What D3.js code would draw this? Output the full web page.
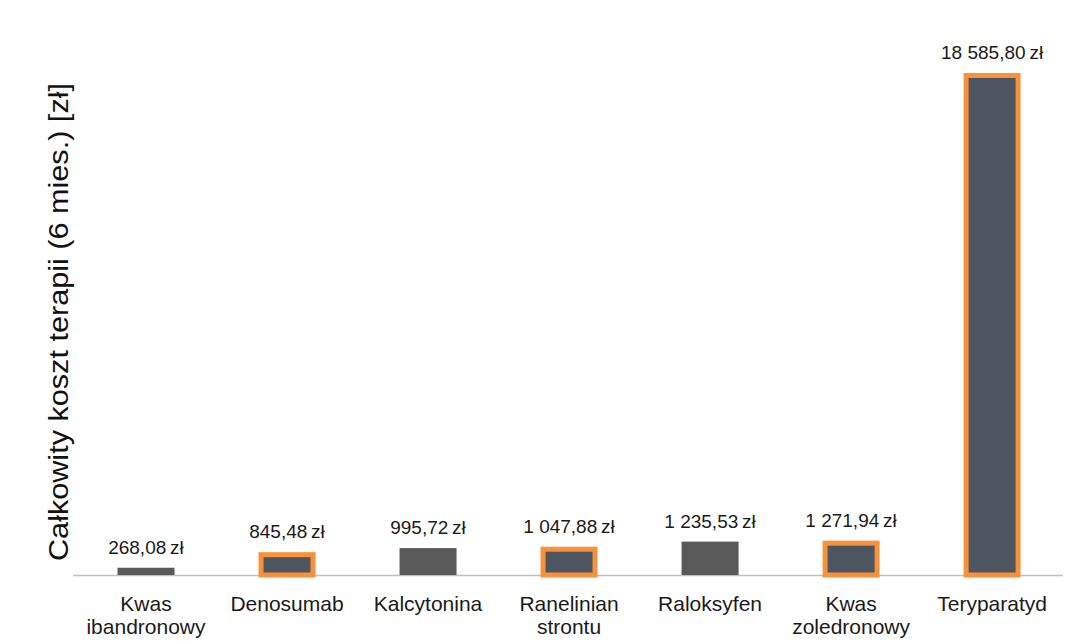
<!DOCTYPE html>
<html>
<head>
<meta charset="utf-8">
<script src="https://cdn.jsdelivr.net/npm/d3@7"></script>
<style>
  body { margin: 0; background: #fff; }
  svg { display: block; font-family: "Liberation Sans", Arial, sans-serif; }
</style>
</head>
<body>
<div id="chart"></div>
<script>
// dane: koszt terapii (6 mies.) w zł
const categories = [
    ["Kwas", "ibandronowy"],
    ["Denosumab"],
    ["Kalcytonina"],
    ["Ranelinian", "strontu"],
    ["Raloksyfen"],
    ["Kwas", "zoledronowy"],
    ["Teryparatyd"]
];
const costs = [268.08, 845.48, 995.72, 1047.88, 1235.53, 1271.94, 18585.80];
const highlighted = [false, true, false, true, false, true, true];
const yTitle = "Całkowity koszt terapii (6 mies.) [zł]";

const width = 1078, height = 641;
const base = 575;

const pl = d3.formatLocale({ decimal: ",", thousands: "\u00a0", grouping: [3], currency: ["", "\u2009zł"] });
const fmt = pl.format("$,.2f");

const svg = d3.select("#chart").append("svg")
    .attr("width", width)
    .attr("height", height);

const x = d3.scalePoint()
    .domain(d3.range(categories.length))
    .range([75.5, 1062.6])
    .padding(0.5);

const y = d3.scaleLinear()
    .domain([0, d3.max(costs)])
    .range([base, 73]);

const barW = 57;

// oś pozioma
svg.append("line")
    .attr("x1", 73).attr("x2", 1063)
    .attr("y1", base + 0.5).attr("y2", base + 0.5)
    .attr("stroke", "#bfbfbf")
    .attr("stroke-width", 1.5);

// słupki
svg.selectAll(".bar").data(costs).enter().append("rect")
    .attr("class", "bar")
    .attr("x", (d, i) => x(i) - barW / 2 + (highlighted[i] ? 2.5 : 0))
    .attr("width", (d, i) => barW - (highlighted[i] ? 5 : 0))
    .attr("y", (d, i) => y(d) + (highlighted[i] ? 2.5 : 0))
    .attr("height", (d, i) => Math.max(0, base - y(d) - (highlighted[i] ? 2.5 : 0)))
    .attr("fill", (d, i) => highlighted[i] ? "#4d5660" : "#595959")
    .attr("stroke", (d, i) => highlighted[i] ? "#f7923a" : "none")
    .attr("stroke-width", 5);

// etykiety wartości
svg.selectAll(".val").data(costs).enter().append("text")
    .attr("class", "val")
    .attr("x", (d, i) => x(i))
    .attr("y", d => y(d) - 14)
    .attr("text-anchor", "middle")
    .style("font-size", "19px")
    .style("fill", "#1a1a1a")
    .text(d => fmt(d));

// kategorie
const cat = svg.selectAll(".cat").data(categories).enter().append("text")
    .attr("class", "cat")
    .attr("text-anchor", "middle")
    .style("font-size", "21px")
    .style("fill", "#1a1a1a");
cat.selectAll("tspan").data((d, i) => d.map(t => ({ t, i }))).enter().append("tspan")
    .attr("x", d => x(d.i))
    .attr("y", (d, j) => 611 + j * 23)
    .text(d => d.t);

// tytuł osi Y
svg.append("text")
    .attr("transform", "translate(59,322) rotate(-90)")
    .attr("text-anchor", "middle")
    .attr("dominant-baseline", "central")
    .attr("textLength", 478)
    .attr("lengthAdjust", "spacingAndGlyphs")
    .style("font-size", "27px")
    .style("fill", "#111")
    .text(yTitle);
</script>
</body>
</html>
